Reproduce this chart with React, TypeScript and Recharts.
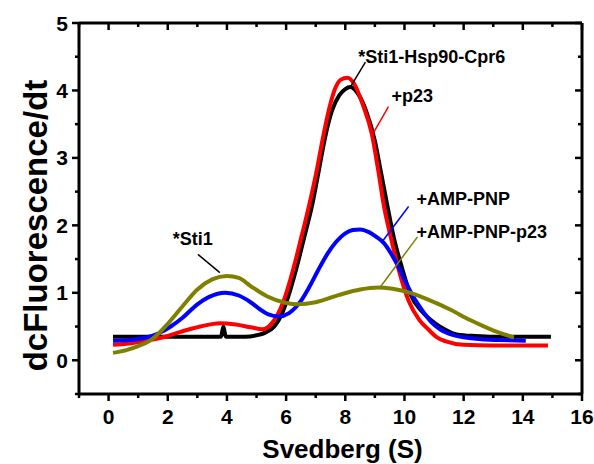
import { LineChart, Line, XAxis, YAxis, ReferenceLine, ReferenceDot } from "recharts";

// sedimentation profiles: [svedberg, dcFluorescence/dt]
const sti1Hsp90Cpr6: [number, number][] = [
  [0.15, 0.35], [1, 0.35], [2, 0.35], [3, 0.35], [3.8, 0.35], [3.88, 0.5], [3.96, 0.35],
  [4.6, 0.35], [5.0, 0.37], [5.3, 0.41], [5.6, 0.5], [5.85, 0.68], [6.0, 0.85], [6.34, 1.35],
  [6.6, 1.8], [6.9, 2.34], [7.1, 2.8], [7.32, 3.31], [7.55, 3.7], [7.8, 3.93], [8.0, 4.02],
  [8.17, 4.05], [8.4, 3.97], [8.7, 3.7], [9.0, 3.25], [9.2, 2.8], [9.4, 2.34], [9.65, 1.8],
  [9.93, 1.35], [10.2, 0.98], [10.6, 0.72], [11.0, 0.56], [11.4, 0.45], [11.8, 0.38],
  [12.4, 0.36], [13, 0.35], [14, 0.35], [14.95, 0.35],
];

const plusP23: [number, number][] = [
  [0.15, 0.23], [0.7, 0.25], [1.4, 0.3], [2.0, 0.36], [2.5, 0.43], [3.1, 0.5], [3.76, 0.55],
  [4.3, 0.53], [4.8, 0.49], [5.2, 0.46], [5.5, 0.54], [5.9, 0.86], [6.24, 1.35], [6.5, 1.8],
  [6.8, 2.34], [7.05, 2.85], [7.25, 3.31], [7.45, 3.72], [7.65, 4.02], [7.85, 4.16], [8.07, 4.19],
  [8.3, 4.1], [8.6, 3.78], [8.9, 3.35], [9.1, 2.85], [9.3, 2.3], [9.55, 1.8], [9.8, 1.35],
  [10.15, 0.87], [10.5, 0.6], [10.8, 0.46], [11.1, 0.34], [11.4, 0.28], [12, 0.23], [13, 0.22],
  [14.85, 0.22],
];

const plusAmpPnp: [number, number][] = [
  [0.15, 0.29], [0.7, 0.3], [1.2, 0.33], [1.7, 0.4], [2.1, 0.5], [2.5, 0.63], [3.0, 0.83],
  [3.4, 0.94], [3.95, 1.0], [4.4, 0.96], [4.8, 0.86], [5.1, 0.76], [5.4, 0.68], [5.75, 0.65],
  [6.1, 0.7], [6.5, 0.88], [6.8, 1.1], [7.1, 1.35], [7.4, 1.58], [7.7, 1.76], [8.0, 1.88],
  [8.25, 1.93], [8.5, 1.94], [8.8, 1.9], [9.05, 1.83], [9.3, 1.74], [9.55, 1.58], [9.8, 1.38],
  [10.05, 1.15], [10.3, 0.94], [10.6, 0.74], [10.9, 0.57], [11.2, 0.46], [11.6, 0.38],
  [12.0, 0.34], [12.6, 0.31], [13.2, 0.3], [14.1, 0.29],
];

const plusAmpPnpP23: [number, number][] = [
  [0.15, 0.11], [0.6, 0.15], [1.0, 0.21], [1.4, 0.29], [1.7, 0.4], [2.0, 0.54], [2.5, 0.8],
  [3.0, 1.05], [3.5, 1.2], [4.0, 1.25], [4.4, 1.22], [4.8, 1.1], [5.35, 0.95], [6.0, 0.85],
  [6.4, 0.83], [7.0, 0.86], [7.8, 0.97], [8.5, 1.05], [9.1, 1.08], [9.6, 1.06], [10.2, 1.0],
  [10.8, 0.9], [11.56, 0.75], [12.2, 0.6], [12.7, 0.5], [13.2, 0.41], [13.7, 0.34],
];

const xDomain: [number, number] = [-1, 16];
const yDomain: [number, number] = [-0.5, 5];
const xTicks = [-1, 0, 1, 2, 3, 4, 5, 6, 7, 8, 9, 10, 11, 12, 13, 14, 15, 16];
const yTicks = [-0.5, 0, 0.5, 1, 1.5, 2, 2.5, 3, 3.5, 4, 4.5, 5];

// callouts: label text, colour, label anchor, leader line start/end
const callouts = [
  { text: "*Sti1-Hsp90-Cpr6", color: "#000000", at: [8.44, 4.5], from: [8.68, 4.42], to: [8.17, 4.05] },
  { text: "+p23", color: "#ff0000", at: [9.56, 3.93], from: [9.46, 3.76], to: [8.95, 3.37] },
  { text: "+AMP-PNP", color: "#0000ff", at: [10.41, 2.39], from: [10.14, 2.28], to: [9.25, 1.76] },
  { text: "+AMP-PNP-p23", color: "#808000", at: [10.41, 1.91], from: [10.44, 1.83], to: [9.19, 1.09] },
  { text: "*Sti1", color: "#000000", at: [2.17, 1.81], from: [3.02, 1.57], to: [3.76, 1.3] },
];

const series = [
  { name: "*Sti1-Hsp90-Cpr6", color: "#000000", points: sti1Hsp90Cpr6 },
  { name: "+p23", color: "#ff0000", points: plusP23 },
  { name: "+AMP-PNP", color: "#0000ff", points: plusAmpPnp },
  { name: "+AMP-PNP-p23", color: "#808000", points: plusAmpPnpP23 },
];

const FONT = "'Liberation Sans', Arial, sans-serif";
const W = 594;
const H = 464;
const MARGIN = { top: 23, right: 12 };
const Y_AXIS_W = 79;
const X_AXIS_H = 70;
// plot box size, used to mirror tick marks onto the top and right edges
const PLOT_W = W - Y_AXIS_W - MARGIN.right;
const PLOT_H = H - X_AXIS_H - MARGIN.top;

const tickStroke = { stroke: "#000", strokeWidth: 2.5 };
const axisLine = { stroke: "#000", strokeWidth: 3 };

// bottom ticks point out, their twins on the top edge point in
function XTick({ x, y, payload }: any) {
  const major = payload.value % 2 === 0;
  const len = major ? 7 : 4;
  const top = y - PLOT_H;
  return (
    <g>
      <line x1={x} y1={y} x2={x} y2={y + len} {...tickStroke} />
      <line x1={x} y1={top} x2={x} y2={top + len} {...tickStroke} />
      {major && (
        <text x={x} y={y + 30} textAnchor="middle" fontSize={21} fontWeight={700} fill="#000" fontFamily={FONT}>
          {payload.value}
        </text>
      )}
    </g>
  );
}

// left ticks point out, their twins on the right edge point in
function YTick({ x, y, payload }: any) {
  const major = Number.isInteger(payload.value);
  const len = major ? 7 : 4;
  const right = x + PLOT_W;
  return (
    <g>
      <line x1={x} y1={y} x2={x - len} y2={y} {...tickStroke} />
      <line x1={right} y1={y} x2={right - len} y2={y} {...tickStroke} />
      {major && (
        <text x={x - 11} y={y + 7.5} textAnchor="end" fontSize={21} fontWeight={700} fill="#000" fontFamily={FONT}>
          {payload.value}
        </text>
      )}
    </g>
  );
}

export default function App() {
  return (
    <div style={{ position: "absolute", left: 0, top: 0, width: W, height: H, background: "#fff" }}>
      <LineChart
        width={W}
        height={H}
        margin={{ top: MARGIN.top, right: MARGIN.right, bottom: 0, left: 0 }}
        style={{ fontFamily: FONT }}
      >
        <XAxis
          dataKey="s"
          type="number"
          domain={xDomain}
          ticks={xTicks}
          interval={0}
          height={X_AXIS_H}
          tickSize={0}
          tickMargin={0}
          tickLine={false}
          axisLine={axisLine}
          tick={XTick}
          allowDataOverflow
          label={{
            value: "Svedberg (S)",
            position: "insideBottom",
            offset: 6,
            dx: 12,
            fontSize: 26,
            fontWeight: 700,
            fill: "#000",
          }}
        />
        <YAxis
          type="number"
          domain={yDomain}
          ticks={yTicks}
          interval={0}
          width={Y_AXIS_W}
          tickSize={0}
          tickMargin={0}
          tickLine={false}
          axisLine={axisLine}
          tick={YTick}
          allowDataOverflow
          label={{
            value: "dcFluorescence/dt",
            angle: -90,
            position: "insideLeft",
            offset: 35,
            dy: 17,
            fontSize: 33,
            fontWeight: 700,
            fill: "#000",
            style: { textAnchor: "middle" },
          }}
        />
        {/* top and right edges of the frame */}
        <ReferenceLine y={yDomain[1]} stroke="#000" strokeWidth={3} ifOverflow="visible" />
        <ReferenceLine x={xDomain[1]} stroke="#000" strokeWidth={3} ifOverflow="visible" />
        {series.map((s) => (
          <Line
            key={s.name}
            name={s.name}
            data={s.points.map(([sv, v]) => ({ s: sv, v }))}
            dataKey="v"
            type="monotone"
            stroke={s.color}
            strokeWidth={4}
            dot={false}
            activeDot={false}
            isAnimationActive={false}
          />
        ))}
        {callouts.map((c) => (
          <ReferenceLine
            key={`leader-${c.text}`}
            segment={[
              { x: c.from[0], y: c.from[1] },
              { x: c.to[0], y: c.to[1] },
            ]}
            stroke={c.color}
            strokeWidth={1.5}
          />
        ))}
        {callouts.map((c) => (
          <ReferenceDot
            key={`text-${c.text}`}
            x={c.at[0]}
            y={c.at[1]}
            r={0}
            fill="none"
            stroke="none"
            label={{ value: c.text, position: "right", offset: 0, fontSize: 18, fontWeight: 700, fill: "#000" }}
          />
        ))}
      </LineChart>
    </div>
  );
}
